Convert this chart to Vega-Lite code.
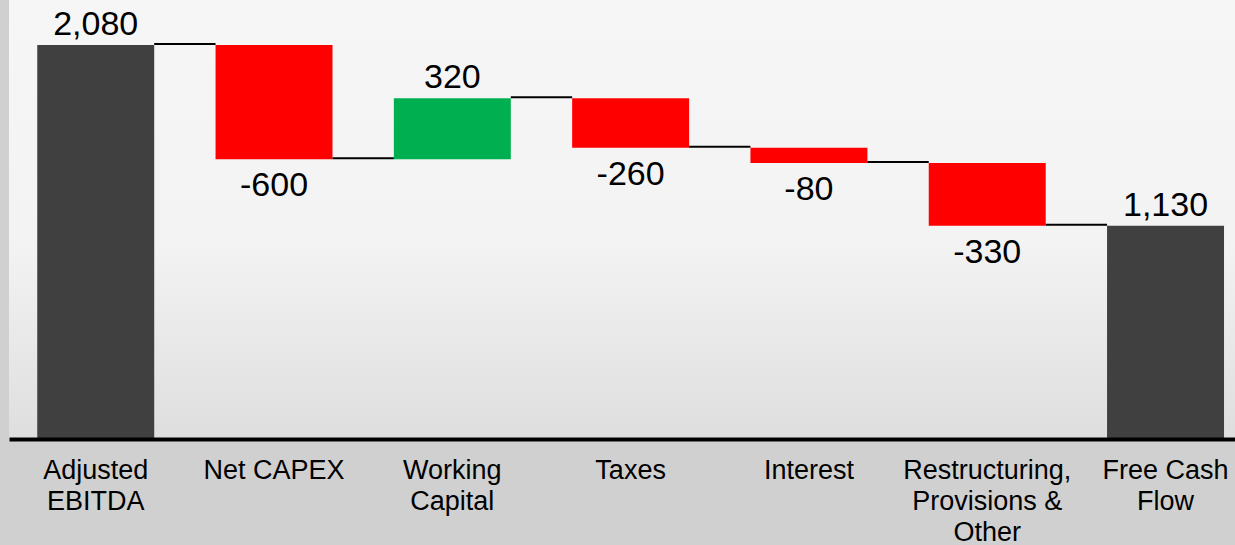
{
  "$schema": "https://vega.github.io/schema/vega-lite/v6.json",
  "width": 1226,
  "height": 441,
  "autosize": {"type": "none"},
  "padding": {"left": 9, "top": 0, "right": 0, "bottom": 104},
  "background": "#d0d0d0",
  "config": {"view": {"stroke": null}, "font": "Liberation Sans"},
  "datasets": {
    "steps": [
      {"cat": "Adjusted EBITDA", "start": 0, "end": 2080, "kind": "total", "label": "2,080"},
      {"cat": "Net CAPEX", "start": 2080, "end": 1480, "kind": "decrease", "label": "-600"},
      {"cat": "Working Capital", "start": 1480, "end": 1800, "kind": "increase", "label": "320"},
      {"cat": "Taxes", "start": 1800, "end": 1540, "kind": "decrease", "label": "-260"},
      {"cat": "Interest", "start": 1540, "end": 1460, "kind": "decrease", "label": "-80"},
      {"cat": "Restructuring, Provisions & Other", "start": 1460, "end": 1130, "kind": "decrease", "label": "-330"},
      {"cat": "Free Cash Flow", "start": 0, "end": 1130, "kind": "total", "label": "1,130"}
    ],
    "links": [
      {"from": "Adjusted EBITDA", "to": "Net CAPEX", "level": 2080},
      {"from": "Net CAPEX", "to": "Working Capital", "level": 1480},
      {"from": "Working Capital", "to": "Taxes", "level": 1800},
      {"from": "Taxes", "to": "Interest", "level": 1540},
      {"from": "Interest", "to": "Restructuring, Provisions & Other", "level": 1460},
      {"from": "Restructuring, Provisions & Other", "to": "Free Cash Flow", "level": 1130}
    ],
    "bg": [{"one": 1}]
  },
  "resolve": {"scale": {"x": "shared", "y": "shared"}},
  "layer": [
    {
      "data": {"name": "bg"},
      "mark": {
        "type": "rect",
        "fill": {
          "gradient": "linear", "x1": 0, "y1": 0, "x2": 0, "y2": 1,
          "stops": [
            {"offset": 0, "color": "#f6f6f6"},
            {"offset": 0.55, "color": "#f3f3f3"},
            {"offset": 1, "color": "#dedede"}
          ]
        }
      },
      "encoding": {}
    },
    {
      "data": {"name": "steps"},
      "mark": {"type": "bar"},
      "encoding": {
        "x": {
          "field": "cat", "type": "nominal",
          "scale": {
            "domain": ["Adjusted EBITDA", "Net CAPEX", "Working Capital", "Taxes", "Interest", "Restructuring, Provisions & Other", "Free Cash Flow"],
            "paddingInner": 0.344, "paddingOuter": 0.11, "align": 0.72
          },
          "axis": {
            "title": null, "labelAngle": 0, "ticks": false, "grid": false, "zindex": 2,
            "domain": true, "domainColor": "#000000", "domainWidth": 4, "offset": -2,
            "labelFont": "Liberation Sans", "labelFontSize": 27, "labelColor": "#000000",
            "labelPadding": 18, "labelLimit": 0, "labelLineHeight": 31,
            "labelExpr": "datum.value == 'Adjusted EBITDA' ? ['Adjusted', 'EBITDA'] : datum.value == 'Working Capital' ? ['Working', 'Capital'] : datum.value == 'Restructuring, Provisions & Other' ? ['Restructuring,', 'Provisions &', 'Other'] : datum.value == 'Free Cash Flow' ? ['Free Cash', 'Flow'] : datum.value"
          }
        },
        "y": {"field": "start", "type": "quantitative", "scale": {"domain": [0, 2316], "nice": false}, "axis": null},
        "y2": {"field": "end"},
        "color": {
          "field": "kind", "type": "nominal",
          "scale": {"domain": ["total", "decrease", "increase"], "range": ["#404040", "#ff0000", "#00b050"]},
          "legend": null
        }
      }
    },
    {
      "data": {"name": "links"},
      "mark": {"type": "rule", "color": "#000000", "strokeWidth": 2, "yOffset": -1},
      "encoding": {
        "x": {"field": "from", "type": "nominal", "bandPosition": 1},
        "x2": {"field": "to", "bandPosition": 0},
        "y": {"field": "level", "type": "quantitative"}
      }
    },
    {
      "data": {"name": "steps"},
      "transform": [{"filter": "datum.kind != 'decrease'"}],
      "mark": {"type": "text", "baseline": "bottom", "dy": -3, "fontSize": 34, "font": "Liberation Sans", "color": "#000000"},
      "encoding": {
        "x": {"field": "cat", "type": "nominal"},
        "y": {"field": "end", "type": "quantitative"},
        "text": {"field": "label"}
      }
    },
    {
      "data": {"name": "steps"},
      "transform": [{"filter": "datum.kind == 'decrease'"}],
      "mark": {"type": "text", "baseline": "top", "dy": 10, "fontSize": 34, "font": "Liberation Sans", "color": "#000000"},
      "encoding": {
        "x": {"field": "cat", "type": "nominal"},
        "y": {"field": "end", "type": "quantitative"},
        "text": {"field": "label"}
      }
    }
  ]
}
